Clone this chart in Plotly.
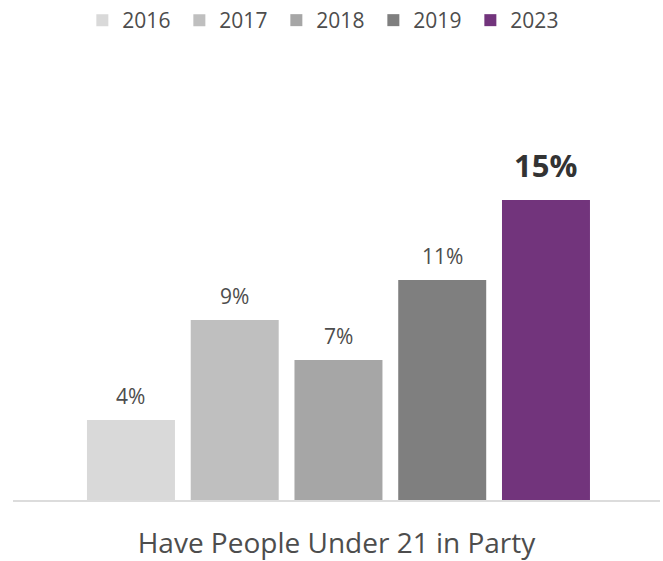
import plotly.graph_objects as go

# Share of parties with people under 21, by survey year
years = ["2016", "2017", "2018", "2019", "2023"]
values = [4, 9, 7, 11, 15]
colors = ["#d9d9d9", "#bfbfbf", "#a6a6a6", "#7f7f7f", "#72347c"]
category_label = "Have People Under 21 in Party"

FONT = "Open Sans"
TEXT_COLOR = "#4d4d4d"

fig = go.Figure()
for yr, v, c in zip(years, values, colors):
    fig.add_trace(go.Bar(
        x=[yr], y=[v], name=yr,
        marker=dict(color=c, line=dict(width=0)),
        hoverinfo="skip",
    ))

# Value labels above each bar; the latest year is emphasised
for i, (yr, v) in enumerate(zip(years, values)):
    last = i == len(years) - 1
    fig.add_annotation(
        x=i, y=v, text=f"<b>{v}%</b>" if last else f"{v}%",
        showarrow=False, yanchor="bottom", yshift=12 if last else 8,
        font=dict(family=FONT, size=31 if last else 21,
                  color="#333333" if last else TEXT_COLOR),
    )

fig.update_layout(
    width=663, height=561,
    margin=dict(l=13, r=3, t=100, b=61),
    paper_bgcolor="white", plot_bgcolor="white",
    barmode="overlay", bargap=0.152,
    font=dict(family=FONT, color=TEXT_COLOR),
    showlegend=True,
    legend=dict(
        orientation="h", x=0.482, xanchor="center", y=1.0, yref="container",
        yanchor="top", font=dict(family=FONT, size=21, color=TEXT_COLOR),
        traceorder="normal", entrywidth=52,
    ),
    xaxis=dict(
        type="category", range=[-1.137, 5.099],
        showticklabels=False, showgrid=False, zeroline=False,
        showline=True, linecolor="#dcdcdc", linewidth=1.5, ticks="",
        title=dict(text=category_label, standoff=35,
                   font=dict(family=FONT, size=28, color=TEXT_COLOR)),
    ),
    yaxis=dict(range=[0, 20], visible=False),
)

fig.write_html("out.html")
